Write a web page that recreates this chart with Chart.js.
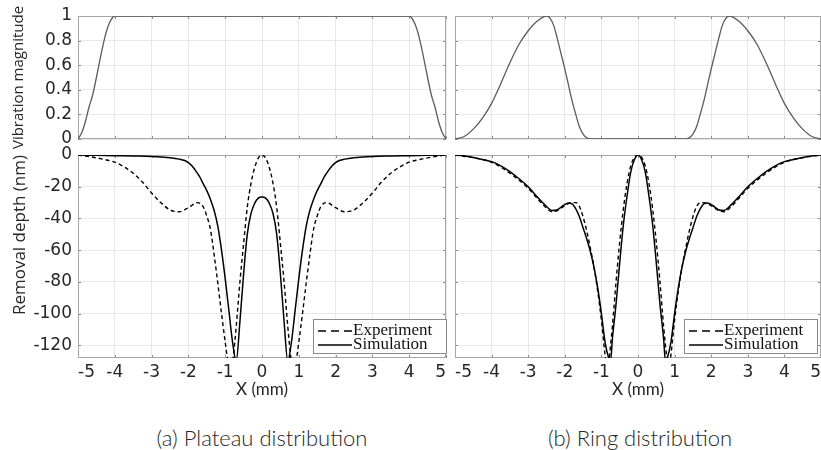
<!DOCTYPE html>
<html>
<head>
<meta charset="utf-8">
<script src="https://cdn.jsdelivr.net/npm/chart.js@4.4.1/dist/chart.umd.min.js"></script>
<style>
    html, body { margin: 0; padding: 0; background: #fff; }
    body { width: 821px; height: 450px; position: relative; overflow: hidden; }
    .panel { position: absolute; }
    .caption {
        position: absolute;
        top: 424px;
        width: 300px;
        text-align: center;
        font-family: Lato, 'Open Sans', sans-serif;
        font-weight: 300;
        font-size: 22px;
        color: #262626;
    }
</style>
</head>
<body>
<div class="panel" style="left:0;top:0;width:450px;height:160px"><canvas id="plateau-mag"></canvas></div>
<div class="panel" style="left:450px;top:0;width:371px;height:145px"><canvas id="ring-mag"></canvas></div>
<div class="panel" style="left:0;top:140px;width:450px;height:260px"><canvas id="plateau-depth"></canvas></div>
<div class="panel" style="left:450px;top:140px;width:371px;height:260px"><canvas id="ring-depth"></canvas></div>
<div class="caption" style="left:112px">(a) Plateau distribution</div>
<div class="caption" style="left:490px">(b) Ring distribution</div>

<script>
// Vibration magnitude, plateau distribution
const plateauX = [-5, -4.9, -4.8, -4.7, -4.6, -4.5, -4.4, -4.3, -4.2, -4.1, -4, 4, 4.1, 4.2, 4.3, 4.4, 4.5, 4.6, 4.7, 4.8, 4.9, 5];
const plateauMag = [0, 0.05, 0.14, 0.26, 0.36, 0.5, 0.65, 0.79, 0.9, 0.97, 1, 1, 0.97, 0.9, 0.79, 0.65, 0.5, 0.36, 0.26, 0.14, 0.05, 0];

// Vibration magnitude, ring distribution
const ringX = [-5, -4.75, -4.5, -4.25, -4, -3.75, -3.5, -3.25, -3, -2.75, -2.5, -2.4, -2.3, -2.2, -2.1, -2, -1.9, -1.8, -1.7, -1.6, -1.5, -1.4, -1.3,
    1.3, 1.4, 1.5, 1.6, 1.7, 1.8, 1.9, 2, 2.1, 2.2, 2.3, 2.4, 2.5, 2.75, 3, 3.25, 3.5, 3.75, 4, 4.25, 4.5, 4.75, 5];
const ringMag = [0, 0.02, 0.08, 0.17, 0.29, 0.45, 0.62, 0.77, 0.88, 0.96, 1, 0.98, 0.92, 0.81, 0.69, 0.57, 0.44, 0.31, 0.2, 0.1, 0.04, 0.01, 0,
    0, 0.01, 0.04, 0.1, 0.2, 0.31, 0.44, 0.57, 0.69, 0.81, 0.92, 0.98, 1, 0.96, 0.88, 0.77, 0.62, 0.45, 0.29, 0.17, 0.08, 0.02, 0];

// Removal depth (nm), plateau: experiment
const plateauExpX = [-5, -4.75, -4.5, -4.25, -4, -3.75, -3.5, -3.25, -3, -2.75, -2.5, -2.25, -2, -1.75, -1.6, -1.5, -1.4, -1.3, -1.2, -1.1, -1, -0.9, -0.85, -0.8, -0.7, -0.6, -0.5, -0.4, -0.3, -0.2, -0.1, 0,
    0.1, 0.2, 0.3, 0.4, 0.5, 0.6, 0.7, 0.8, 0.85, 0.9, 1, 1.1, 1.2, 1.3, 1.4, 1.5, 1.6, 1.75, 2, 2.25, 2.5, 2.75, 3, 3.25, 3.5, 3.75, 4, 4.25, 4.5, 4.75, 5];
const plateauExp = [0, -0.8, -1.8, -3, -4.5, -7.5, -11.5, -17, -24, -30, -34.6, -35.8, -33.2, -30, -32.5, -38.5, -47, -63, -81, -100, -118, -134, -137, -131, -108, -80, -56, -33, -18, -8, -2, 0,
    -2, -8, -18, -33, -56, -80, -108, -131, -137, -134, -118, -100, -81, -63, -47, -38.5, -32.5, -30, -33.2, -35.8, -34.6, -30, -24, -17, -11.5, -7.5, -4.5, -3, -1.8, -0.8, 0];

// Removal depth (nm), plateau: simulation
const plateauSimX = [-5, -4.5, -4, -3.5, -3, -2.5, -2.25, -2.1, -2, -1.9, -1.8, -1.7, -1.6, -1.5, -1.4, -1.3, -1.2, -1.1, -1, -0.9, -0.8, -0.7, -0.6, -0.5, -0.4, -0.3, -0.2, -0.1, 0,
    0.1, 0.2, 0.3, 0.4, 0.5, 0.6, 0.7, 0.8, 0.9, 1, 1.1, 1.2, 1.3, 1.4, 1.5, 1.6, 1.7, 1.8, 1.9, 2, 2.1, 2.25, 2.5, 3, 3.5, 4, 4.5, 5];
const plateauSim = [0, -0.2, -0.4, -0.6, -0.9, -1.8, -2.6, -3.5, -4.8, -7, -10, -13.5, -18, -22.5, -28, -35, -45, -60, -78, -98, -118, -130, -105, -75, -50, -37, -30.5, -27.2, -26.5,
    -27.2, -30.5, -37, -50, -75, -105, -130, -118, -98, -78, -60, -45, -35, -28, -22.5, -18, -13.5, -10, -7, -4.8, -3.5, -2.6, -1.8, -0.9, -0.6, -0.4, -0.2, 0];

// Removal depth (nm), ring: experiment
const ringExpX = [-5, -4.5, -4, -3.5, -3, -2.75, -2.5, -2.35, -2.2, -2, -1.85, -1.7, -1.6, -1.5, -1.4, -1.3, -1.2, -1.1, -1, -0.9, -0.85, -0.8, -0.7, -0.6, -0.5, -0.4, -0.3, -0.2, -0.1, 0,
    0.1, 0.2, 0.3, 0.4, 0.5, 0.6, 0.7, 0.8, 0.85, 0.9, 1, 1.1, 1.2, 1.3, 1.4, 1.5, 1.6, 1.7, 1.85, 2, 2.2, 2.35, 2.5, 2.75, 3, 3.5, 4, 4.5, 5];
const ringExp = [0, -1.7, -4.6, -11.5, -21, -27.5, -33.5, -35.8, -35, -32, -30.2, -30, -32.5, -39, -48, -59, -71, -86, -104, -126, -134, -130, -108, -80, -55, -34, -18, -7, -1.5, 0,
    -1.5, -7, -18, -34, -55, -80, -108, -130, -134, -126, -104, -86, -71, -59, -48, -39, -32.5, -30, -30.2, -32, -35, -35.8, -33.5, -27.5, -21, -11.5, -4.6, -1.7, 0];

// Removal depth (nm), ring: simulation
const ringSimX = [-5, -4.75, -4.5, -4.25, -4, -3.75, -3.5, -3.25, -3, -2.75, -2.5, -2.35, -2.2, -2.05, -1.9, -1.8, -1.7, -1.6, -1.5, -1.4, -1.3, -1.2, -1.1, -1, -0.9, -0.8, -0.75, -0.7, -0.6, -0.5, -0.4, -0.3, -0.2, -0.1, 0,
    0.1, 0.2, 0.3, 0.4, 0.5, 0.6, 0.7, 0.75, 0.8, 0.9, 1, 1.1, 1.2, 1.3, 1.4, 1.5, 1.6, 1.7, 1.8, 1.9, 2.05, 2.2, 2.35, 2.5, 2.75, 3, 3.25, 3.5, 3.75, 4, 4.25, 4.5, 4.75, 5];
const ringSim = [0, -0.6, -1.6, -2.8, -4.2, -6.8, -10.5, -15, -20, -26.5, -32.5, -35, -34.5, -32, -30.3, -30.8, -34, -39, -46, -53, -61, -71, -84, -100, -118, -128, -130, -116, -94, -68, -44, -26, -11, -3, 0,
    -3, -11, -26, -44, -68, -94, -116, -130, -128, -118, -100, -84, -71, -61, -53, -46, -39, -34, -30.8, -30.3, -32, -34.5, -35, -32.5, -26.5, -20, -15, -10.5, -6.8, -4.2, -2.8, -1.6, -0.6, 0];

const seriesLabels = ['Experiment', 'Simulation'];

const GRID = '#e8e8e8';
const FRAME = '#a6a6a6';
const TEXT = '#262626';
const TICK_FONT = { family: 'DejaVu Sans', size: 17 };

function points(xs, ys) {
    return xs.map((x, i) => ({ x: x, y: ys[i] }));
}

// box round the plot area, with short inward ticks like the original
const framePlugin = {
    id: 'frame',
    beforeDatasetsDraw(chart) {
        const { ctx, chartArea: a, scales } = chart;
        ctx.save();
        ctx.strokeStyle = '#8a8a8a';
        ctx.lineWidth = 1;
        ctx.beginPath();
        scales.x.ticks.forEach(t => {
            const px = Math.round(scales.x.getPixelForValue(t.value)) + 0.5;
            ctx.moveTo(px, a.top); ctx.lineTo(px, a.top + 3);
            ctx.moveTo(px, a.bottom); ctx.lineTo(px, a.bottom - 3);
        });
        scales.y.ticks.forEach(t => {
            const py = Math.round(scales.y.getPixelForValue(t.value)) + 0.5;
            ctx.moveTo(a.left, py); ctx.lineTo(a.left + 3, py);
            ctx.moveTo(a.right, py); ctx.lineTo(a.right - 3, py);
        });
        ctx.stroke();
        ctx.strokeStyle = FRAME;
        ctx.strokeRect(Math.round(a.left) + 0.5, Math.round(a.top) + 0.5,
            Math.round(a.right - a.left) - 1, Math.round(a.bottom - a.top) - 1);
        ctx.restore();
    }
};

// boxed legend in the lower right corner of the plot
const boxLegendPlugin = {
    id: 'boxLegend',
    afterDraw(chart, args, opts) {
        if (!opts.show) return;
        const { ctx, chartArea: a } = chart;
        const w = 133, h = 34;
        const x = Math.round(a.right - opts.inset - w);
        const y = Math.round(a.bottom - 5 - h);
        ctx.save();
        ctx.fillStyle = '#fff';
        ctx.fillRect(x, y, w, h);
        ctx.strokeStyle = '#8c8c8c';
        ctx.lineWidth = 1;
        ctx.strokeRect(x + 0.5, y + 0.5, w, h);
        ctx.font = '17px "Liberation Serif", serif';
        ctx.textBaseline = 'middle';
        ctx.fillStyle = '#111';
        chart.data.datasets.forEach((ds, i) => {
            const ly = y + 12 + i * 14;
            ctx.beginPath();
            ctx.setLineDash(ds.borderDash && ds.borderDash.length ? [8, 5] : []);
            ctx.lineWidth = 1.5;
            ctx.strokeStyle = ds.borderColor;
            ctx.moveTo(x + 5, ly);
            ctx.lineTo(x + 39, ly);
            ctx.stroke();
            ctx.setLineDash([]);
            ctx.fillText(ds.label, x + 40, ly);
        });
        ctx.restore();
    }
};

function makeChart(id, datasets, cfg) {
    return new Chart(document.getElementById(id), {
        type: 'line',
        data: { datasets: datasets },
        options: {
            responsive: true,
            maintainAspectRatio: false,
            animation: false,
            layout: { padding: { top: cfg.top, right: cfg.right, left: 0, bottom: 0 } },
            elements: {
                point: { radius: 0 },
                line: { cubicInterpolationMode: 'monotone' }
            },
            plugins: {
                legend: { display: false },
                tooltip: { enabled: false },
                boxLegend: { show: !!cfg.legend, inset: cfg.legendInset || 0 }
            },
            scales: {
                x: {
                    type: 'linear',
                    min: -5,
                    max: 5,
                    ticks: { stepSize: 1, display: cfg.xLabels, align: 'inner', padding: 4, color: TEXT, font: TICK_FONT },
                    grid: { color: GRID, drawTicks: false },
                    border: { display: false },
                    title: {
                        display: cfg.xLabels,
                        text: 'X (mm)',
                        color: TEXT,
                        font: { family: 'Lato', size: 17 },
                        padding: { top: 0, bottom: 0 }
                    },
                    afterFit(s) {
                        s.height = cfg.xHeight;
                        s.paddingLeft = 0;
                        s.paddingRight = 0;
                    }
                },
                y: {
                    type: 'linear',
                    min: cfg.yMin,
                    max: cfg.yMax,
                    ticks: {
                        stepSize: cfg.yStep,
                        includeBounds: false,
                        display: !!cfg.yTitle,
                        padding: 6,
                        color: TEXT,
                        font: TICK_FONT,
                        callback: v => String(Math.round(v * 10) / 10)
                    },
                    grid: { color: GRID, drawTicks: false },
                    border: { display: false },
                    title: {
                        display: !!cfg.yTitle,
                        text: cfg.yTitle || '',
                        align: cfg.yTitleAlign || 'center',
                        color: TEXT,
                        font: { family: 'Open Sans', size: cfg.yTitleSize || 16 },
                        padding: { top: 10, bottom: 0 }
                    },
                    afterFit(s) {
                        s.width = cfg.yWidth;
                        s.paddingTop = 0;
                        s.paddingBottom = 0;
                    }
                }
            }
        },
        plugins: [framePlugin, boxLegendPlugin]
    });
}

function magnitudeSet(xs, ys) {
    return [{
        label: 'Vibration magnitude',
        data: points(xs, ys),
        borderColor: '#5c5c5c',
        borderWidth: 1.3
    }];
}

function depthSets(expX, exp, simX, sim) {
    return [
        { label: seriesLabels[0], data: points(expX, exp), borderColor: '#000', borderWidth: 1.4, borderDash: [4, 3] },
        { label: seriesLabels[1], data: points(simX, sim), borderColor: '#000', borderWidth: 1.5 }
    ];
}

makeChart('plateau-mag', magnitudeSet(plateauX, plateauMag), {
    top: 16, right: 4, xHeight: 21, yWidth: 78, xLabels: false,
    yMin: 0, yMax: 1, yStep: 0.2, yTitle: 'Vibration magnitude', yTitleSize: 15
});

makeChart('ring-mag', magnitudeSet(ringX, ringMag), {
    top: 16, right: 0, xHeight: 6, yWidth: 5, xLabels: false,
    yMin: 0, yMax: 1, yStep: 0.2
});

makeChart('plateau-depth', depthSets(plateauExpX, plateauExp, plateauSimX, plateauSim), {
    top: 15, right: 4, xHeight: 42, yWidth: 78, xLabels: true,
    yMin: -128, yMax: 0, yStep: 20, yTitle: 'Removal depth (nm)', yTitleAlign: 'end', yTitleSize: 17,
    legend: true, legendInset: 0
});

makeChart('ring-depth', depthSets(ringExpX, ringExp, ringSimX, ringSim), {
    top: 15, right: 0, xHeight: 42, yWidth: 5, xLabels: true,
    yMin: -128, yMax: 0, yStep: 20,
    legend: true, legendInset: 4
});
</script>
</body>
</html>
